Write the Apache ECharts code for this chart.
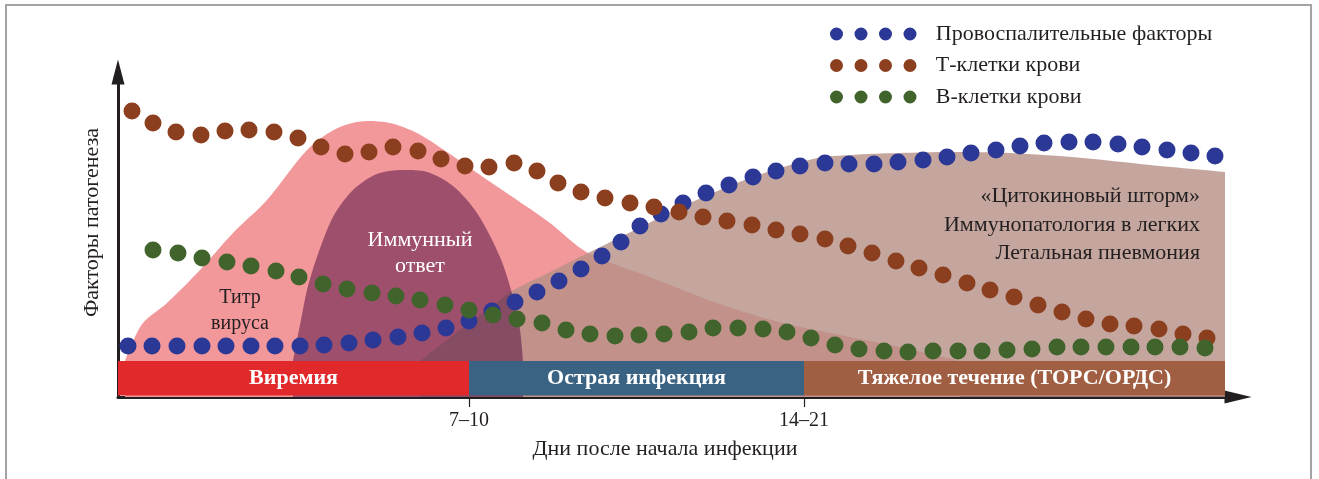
<!DOCTYPE html>
<html><head><meta charset="utf-8">
<script src="https://cdn.jsdelivr.net/npm/echarts@6/dist/echarts.min.js"></script>
<style>
html,body{margin:0;padding:0;background:#fff;overflow:hidden;}
#frame{position:absolute;left:5px;top:4px;width:1303px;height:480px;border:2px solid #a3a3a3;border-bottom:none;}
#chart{position:absolute;left:0;top:0;width:1319px;height:479px;}
</style></head><body>
<div id="frame"></div><div id="chart"></div>
<script>
// ---- data (x: time units along axis, y: relative level) ----
const seriesNames = ['Провоспалительные факторы', 'Т-клетки крови', 'В-клетки крови'];

const blueX = [10,34,59,84,108,133,157,182,206,231,255,280,304,328,351,374,397,419,441,463,484,503,522,543,565,588,611,635,658,682,707,731,756,780,805,829,853,878,902,926,951,975,1000,1024,1049,1073,1097];
const blueY = [51,51,51,51,51,51,51,51,52,54,57,60,64,69,76,86,95,105,116,128,141,155,171,183,194,204,212,220,226,231,234,233,233,235,237,240,244,247,251,254,255,255,253,250,247,244,241];

const brownX = [14,35,58,83,107,131,156,180,203,227,251,275,300,323,347,371,396,419,440,463,487,512,536,561,585,609,634,658,682,707,730,754,778,801,825,849,872,896,920,944,968,992,1016,1041,1065,1089];
const brownY = [286,274,265,262,266,267,265,259,250,243,245,250,246,238,231,230,234,226,214,205,199,194,190,185,180,176,172,167,163,158,151,144,136,129,122,114,107,100,92,85,78,73,71,68,63,59];

const greenX = [35,60,84,109,133,158,181,205,229,254,278,302,327,351,375,399,424,448,472,497,521,546,571,595,620,645,669,693,717,741,766,790,815,840,864,889,914,939,963,988,1013,1037,1062,1087];
const greenY = [147,144,139,135,131,126,120,113,108,104,101,97,92,87,82,78,74,67,63,61,62,63,65,69,69,68,65,59,52,48,46,45,46,46,46,47,48,50,50,50,50,50,50,49];

// background areas
const virusX = [7,12,25,49,82,115,149,182,199,222,249,272,299,332,365,399,432,470,532,599,665,732,782,812,842];
const virusY = [36,49,74,94,127,164,197,239,256,270,276,274,264,243,220,197,174,144,120,94,74,60,50,43,36];

const immuneX = [175,179,183,189,199,215,235,259,285,309,335,359,382,395,402,405];
const immuneY = [36,57,77,107,140,180,207,223,227,225,211,184,140,100,67,36];

const stormX = [302,342,382,392,432,470,519,565,632,699,732,782,832,892,965,1032,1107];
const stormY = [36,67,97,105,125,144,168,191,219,239,242,244,245,244,239,232,225];

// phases band
const phaseNames = ['Виремия', 'Острая инфекция', 'Тяжелое течение (ТОРС/ОРДС)'];
const phaseBounds = [0, 351, 686, 1107];

// axis ticks
const tickValues = [351, 686];
const tickLabels = ['7–10', '14–21'];

const xMax = 1120, yMax = 325;

// ---- chart ----
const pairs = (xs, ys) => xs.map((x, i) => [x, ys[i]]);
const FONT = 'Liberation Serif';
const TXT = '#231f20';
const colors = ['#2b3895', '#8b3f1f', '#41642d'];
const phaseColors = ['#e1282a', '#3a6283', '#a05f42'];

const dotR = 6.5, dotGap = 24.5;
let iconPath = 'path://';
for (let k = 0; k < 4; k++) {
  const cx = dotR + k * dotGap;
  iconPath += `M${cx - dotR},${dotR} A${dotR},${dotR} 0 1,0 ${cx + dotR},${dotR} A${dotR},${dotR} 0 1,0 ${cx - dotR},${dotR} Z `;
}

const chart = echarts.init(document.getElementById('chart'), null, {renderer: 'canvas'});

const areaSeries = (name, xs, ys, color, opacity, z, markPointData) => ({
  name, type: 'line', z, smooth: 0.3, silent: true,
  showSymbol: false, symbol: 'none',
  lineStyle: {width: 0},
  areaStyle: {color, opacity},
  data: pairs(xs, ys),
  markPoint: markPointData ? {
    symbol: 'circle', symbolSize: 0, silent: true, z: 20,
    data: markPointData
  } : undefined
});

const option = {
  animation: false,
  grid: {left: 118, top: 72, right: 81, bottom: 82},
  legend: {
    orient: 'vertical', left: 825, top: 18, itemGap: 9.5,
    itemWidth: 115, itemHeight: 13, symbolKeepAspect: true,
    selectedMode: false,
    textStyle: {fontFamily: FONT, fontSize: 22, color: TXT},
    data: seriesNames.map(n => ({name: n, icon: iconPath}))
  },
  xAxis: {
    type: 'value', min: 0, max: xMax,
    name: 'Дни после начала инфекции', nameLocation: 'middle', nameGap: 41,
    nameTextStyle: {fontFamily: FONT, fontSize: 22, color: TXT, padding: [0, 26, 0, 0]},
    splitLine: {show: false},
    axisLine: {show: true, onZero: false, symbol: ['none', 'triangle'], symbolSize: [13, 27],
      lineStyle: {color: TXT, width: 3}},
    axisTick: {show: true, customValues: tickValues, length: 10, lineStyle: {color: TXT, width: 1.2}},
    axisLabel: {show: true, customValues: tickValues, margin: 14,
      fontFamily: FONT, fontSize: 20, color: TXT,
      formatter: v => tickLabels[tickValues.indexOf(v)] || ''}
  },
  yAxis: {
    type: 'value', min: 0, max: yMax,
    name: 'Факторы патогенеза', nameLocation: 'middle', nameGap: 15, nameRotate: 90,
    nameTextStyle: {fontFamily: FONT, fontSize: 22, color: TXT, padding: [0, 0, 0, 24]},
    splitLine: {show: false},
    axisLine: {show: true, onZero: false, symbol: ['none', 'triangle'], symbolSize: [13, 25],
      lineStyle: {color: TXT, width: 3}},
    axisTick: {show: false}, axisLabel: {show: false}
  },
  series: [
    areaSeries('Титр вируса', virusX, virusY, '#f2979a', 1, 2, [
      {coord: [122, 86], label: {show: true, position: 'inside', formatter: 'Титр\nвируса',
        fontFamily: FONT, fontSize: 20, lineHeight: 26, color: TXT}}
    ]),
    areaSeries('Цитокиновый шторм', stormX, stormY, '#b59086', 0.8, 3, [
      {coord: [1082, 172], label: {show: true, position: 'inside', align: 'right',
        formatter: '«Цитокиновый шторм»\nИммунопатология в легких\nЛетальная пневмония',
        fontFamily: FONT, fontSize: 22, lineHeight: 28.5, color: TXT}}
    ]),
    areaSeries('Иммунный ответ', immuneX, immuneY, '#4a073d', 0.5, 4, [
      {coord: [302, 144], label: {show: true, position: 'inside', formatter: 'Иммунный\nответ',
        fontFamily: FONT, fontSize: 22, lineHeight: 26, color: '#ffffff'}}
    ]),
    {
      name: 'phases', type: 'scatter', data: [], z: 6, silent: true,
      markArea: {
        silent: true, z: 6,
        label: {show: true, position: 'inside', color: '#ffffff', fontFamily: FONT,
          fontWeight: 'bold', fontSize: 22},
        data: phaseNames.map((n, i) => [
          {name: n, xAxis: phaseBounds[i], yAxis: 1.5, itemStyle: {color: phaseColors[i], opacity: 1}},
          {xAxis: phaseBounds[i + 1], yAxis: 36}
        ])
      }
    },
    ...seriesNames.map((n, i) => ({
      name: n, type: 'scatter', z: 10 + i, symbolSize: 17, silent: true,
      itemStyle: {color: colors[i], opacity: 1},
      data: pairs([blueX, brownX, greenX][i], [blueY, brownY, greenY][i])
    }))
  ]
};
chart.setOption(option);
</script></body></html>
